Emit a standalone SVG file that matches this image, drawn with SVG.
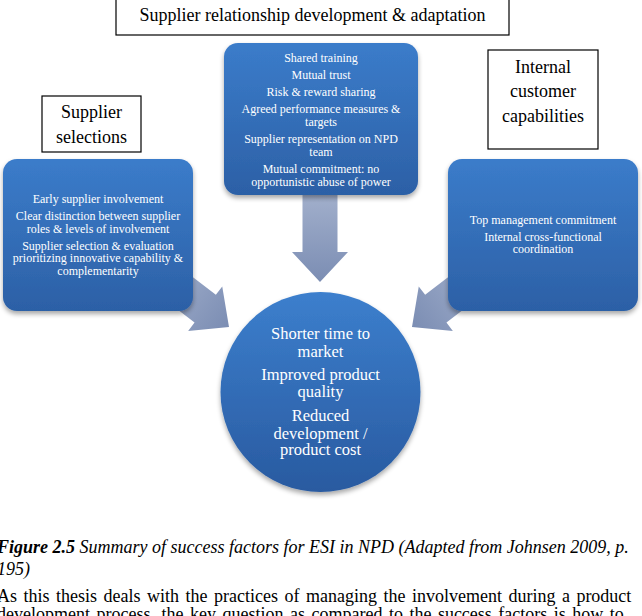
<svg xmlns="http://www.w3.org/2000/svg" width="642" height="616" viewBox="0 0 642 616">
<defs>
<linearGradient id="nodeGrad" x1="0" y1="0" x2="0" y2="1">
<stop offset="0" stop-color="#3b7cca"/>
<stop offset="1" stop-color="#2c60a6"/>
</linearGradient>
<linearGradient id="circGrad" x1="0" y1="0" x2="0" y2="1">
<stop offset="0" stop-color="#3c7fcd"/>
<stop offset="1" stop-color="#295aa0"/>
</linearGradient>
<linearGradient id="arrowGrad" gradientUnits="userSpaceOnUse" x1="-70" y1="0" x2="30" y2="0">
<stop offset="0" stop-color="#a7b4cf"/>
<stop offset="1" stop-color="#7b8db3"/>
</linearGradient>
<filter id="shadow" x="-10%" y="-10%" width="120%" height="125%">
<feGaussianBlur in="SourceAlpha" stdDeviation="2.5"/>
<feOffset dx="0" dy="3" result="b"/>
<feComponentTransfer><feFuncA type="linear" slope="0.35"/></feComponentTransfer>
<feMerge><feMergeNode/><feMergeNode in="SourceGraphic"/></feMerge>
</filter>
<polygon id="blockArrow" points="-70,-17.5 0,-17.5 0,-28 30,0 0,28 0,17.5 -70,17.5"/>
</defs>
<style>
.label{fill:#fff;stroke:#000;stroke-width:1.2}
.ltxt{font-family:"Liberation Serif","Times New Roman",serif;font-size:18px;fill:#000;text-anchor:middle}
.ntxt{font-family:"Liberation Serif","Times New Roman",serif;font-size:12px;fill:#fff;text-anchor:middle}
.ctxt{font-family:"Liberation Serif","Times New Roman",serif;font-size:16.5px;fill:#fff;text-anchor:middle}
.arrow{fill:url(#arrowGrad)}
.body{font-family:"Liberation Serif","Times New Roman",serif;font-size:18px;fill:#000}
</style>
<rect width="642" height="616" fill="#fff"/>

<g id="connectors">
<use href="#blockArrow" class="arrow" transform="translate(205.2,308.7) rotate(37.5)"/>
<use href="#blockArrow" class="arrow" transform="translate(320,252) rotate(90)"/>
<use href="#blockArrow" class="arrow" transform="translate(435.8,308.7) rotate(142.5)"/>
</g>

<g id="node-relationship-label">
<rect class="label" x="116" y="-1" width="393" height="36"/>
<text class="ltxt" x="312.5" y="21">Supplier relationship development &amp; adaptation</text>
</g>

<g id="node-selection-label">
<rect class="label" x="42" y="96" width="99" height="56"/>
<text class="ltxt" x="91.5" y="118">Supplier</text>
<text class="ltxt" x="91.5" y="143">selections</text>
</g>

<g id="node-internal-label">
<rect class="label" x="488" y="50" width="110" height="99"/>
<text class="ltxt" x="543" y="73">Internal</text>
<text class="ltxt" x="543" y="97">customer</text>
<text class="ltxt" x="543" y="122">capabilities</text>
</g>

<g id="node-relationship">
<rect x="224" y="43" width="194" height="152" rx="14" fill="url(#nodeGrad)" filter="url(#shadow)"/>
<text class="ntxt" x="321" y="62">Shared training</text>
<text class="ntxt" x="321" y="79">Mutual trust</text>
<text class="ntxt" x="321" y="96">Risk &amp; reward sharing</text>
<text class="ntxt" x="321" y="113">Agreed performance measures &amp;</text>
<text class="ntxt" x="321" y="126">targets</text>
<text class="ntxt" x="321" y="143">Supplier representation on NPD</text>
<text class="ntxt" x="321" y="156">team</text>
<text class="ntxt" x="321" y="173">Mutual commitment: no</text>
<text class="ntxt" x="321" y="186">opportunistic abuse of power</text>
</g>

<g id="node-selection">
<rect x="3" y="159" width="190" height="152" rx="14" fill="url(#nodeGrad)" filter="url(#shadow)"/>
<text class="ntxt" x="98" y="203">Early supplier involvement</text>
<text class="ntxt" x="98" y="220">Clear distinction between supplier</text>
<text class="ntxt" x="98" y="233">roles &amp; levels of involvement</text>
<text class="ntxt" x="98" y="250">Supplier selection &amp; evaluation</text>
<text class="ntxt" x="98" y="262">prioritizing innovative capability &amp;</text>
<text class="ntxt" x="98" y="275">complementarity</text>
</g>

<g id="node-internal">
<rect x="448" y="159" width="190" height="152" rx="14" fill="url(#nodeGrad)" filter="url(#shadow)"/>
<text class="ntxt" x="543" y="224">Top management commitment</text>
<text class="ntxt" x="543" y="241">Internal cross-functional</text>
<text class="ntxt" x="543" y="253">coordination</text>
</g>

<g id="node-outcomes">
<circle cx="320.5" cy="392" r="100" fill="url(#circGrad)" filter="url(#shadow)"/>
<text class="ctxt" x="320.5" y="338.5">Shorter time to</text>
<text class="ctxt" x="320.5" y="356.5">market</text>
<text class="ctxt" x="320.5" y="379.5">Improved product</text>
<text class="ctxt" x="320.5" y="396.5">quality</text>
<text class="ctxt" x="320.5" y="420.5">Reduced</text>
<text class="ctxt" x="320.5" y="438.5">development /</text>
<text class="ctxt" x="320.5" y="454.5">product cost</text>
</g>

<g id="caption">
<text class="body" x="-3" y="553" font-style="italic"><tspan font-weight="bold">Figure 2.5</tspan> Summary of success factors for ESI in NPD (Adapted from Johnsen 2009, p.</text>
<text class="body" x="-3" y="575" font-style="italic">195)</text>
<text class="body" x="-3" y="602" word-spacing="2">As this thesis deals with the practices of managing the involvement during a product</text>
<text class="body" x="-3" y="620" word-spacing="2">development process, the key question as compared to the success factors is how to</text>
</g>
</svg>
